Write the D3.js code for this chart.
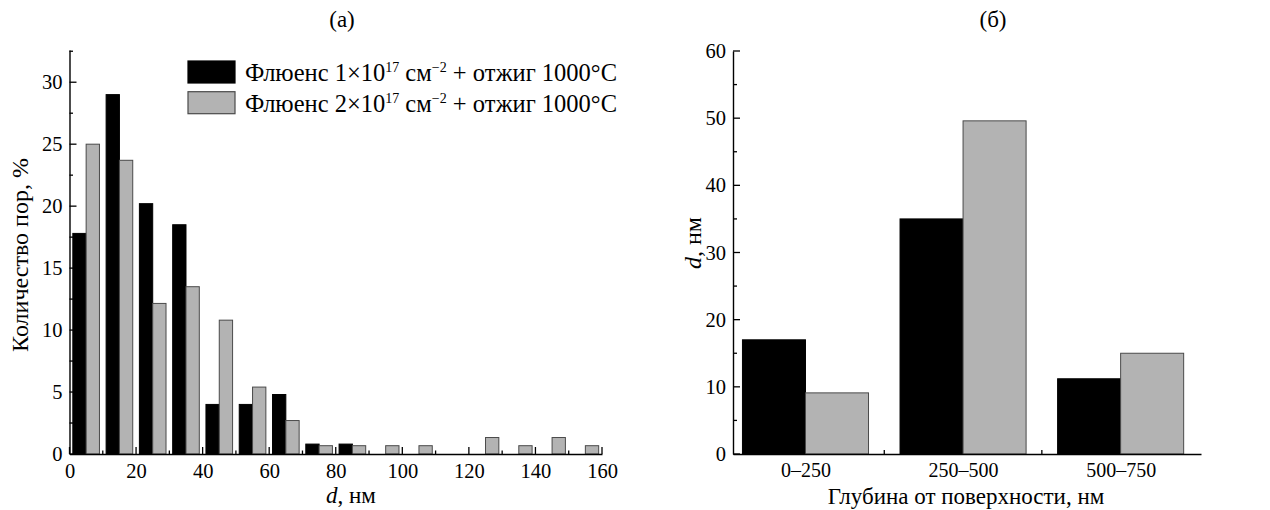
<!DOCTYPE html>
<html>
<head>
<meta charset="utf-8">
<script src="https://cdn.jsdelivr.net/npm/d3@7"></script>
<style>
  body { margin: 0; background: #fff; }
  text { font-family: "Liberation Serif", "Times New Roman", serif; fill: #000; }
</style>
</head>
<body>
<div id="chart"></div>
<script>
let w = 1270,
    h = 510;

// panel (a): pore size histogram, bins of 10 nm
let binStarts = [0, 10, 20, 30, 40, 50, 60, 70, 80, 90, 100, 110, 120, 130, 140, 150];
let fluence1 = [17.8, 29, 20.2, 18.5, 4, 4, 4.8, 0.8, 0.8, 0, 0, 0, 0, 0, 0, 0];
let fluence2 = [25, 23.7, 12.15, 13.5, 10.8, 5.4, 2.7, 0.67, 0.67, 0.67, 0.67, 0, 1.33, 0.67, 1.33, 0.67];
let xTicksA = [0, 20, 40, 60, 80, 100, 120, 140, 160];
let yTicksA = [0, 5, 10, 15, 20, 25, 30];

// panel (б): mean size vs depth
let depthCats = ["0–250", "250–500", "500–750"];
let depth1 = [17, 35, 11.2];
let depth2 = [9.1, 49.6, 15];
let yTicksB = [0, 10, 20, 30, 40, 50, 60];

let seriesKeys = ["f1", "f2"];
let fillColor = { f1: "#000", f2: "#b3b3b3" };
let strokeColor = { f1: "#000", f2: "#4a4a4a" };

let tickFont = "20.5px";

let svg = d3.select("#chart")
            .append("svg")
            .attr("width", w)
            .attr("height", h);

// ---------- panel (a) ----------
let xA = d3.scaleLinear().domain([0, 160]).range([69.5, 602]);
let yA = d3.scaleLinear().domain([0, 32.6]).range([454, 50]);
let sub = d3.scaleBand().domain(seriesKeys).range([0, 10]).paddingInner(0).paddingOuter(0.25);

let gA = svg.append("g");

let histData = [];
binStarts.forEach((b, i) => {
  histData.push({ key: "f1", bin: b, v: fluence1[i] });
  histData.push({ key: "f2", bin: b, v: fluence2[i] });
});

gA.selectAll(".barA")
  .data(histData.filter(d => d.v > 0))
  .enter()
  .append("rect")
  .attr("class", "barA")
  .attr("x", d => xA(d.bin + sub(d.key)))
  .attr("width", d => xA(d.bin + sub(d.key) + sub.bandwidth()) - xA(d.bin + sub(d.key)))
  .attr("y", d => yA(d.v))
  .attr("height", d => yA(0) - yA(d.v))
  .style("fill", d => fillColor[d.key])
  .style("stroke", d => strokeColor[d.key])
  .style("stroke-width", 1);

// x axis
let xAxisA = gA.append("g").attr("transform", "translate(0," + yA(0) + ")");
xAxisA.call(d3.axisBottom(xA).tickValues(xTicksA).tickSize(0).tickPadding(9).tickFormat(d3.format("d")));
xAxisA.select(".domain").style("stroke", "#000").style("stroke-width", 1.4);
xAxisA.selectAll("text").style("font-size", tickFont).style("font-family", "Liberation Serif");
xAxisA.selectAll(".major")
  .data(xTicksA)
  .enter().append("line")
  .attr("x1", d => xA(d)).attr("x2", d => xA(d))
  .attr("y1", 0).attr("y2", -7)
  .style("stroke", "#000").style("stroke-width", 1.3);
xAxisA.selectAll(".minor")
  .data(xTicksA.slice(0, -1).map(d => d + 10))
  .enter().append("line")
  .attr("x1", d => xA(d)).attr("x2", d => xA(d))
  .attr("y1", 0).attr("y2", -3.5)
  .style("stroke", "#000").style("stroke-width", 1.3);

// y axis
let yAxisA = gA.append("g").attr("transform", "translate(" + xA(0) + ",0)");
yAxisA.call(d3.axisLeft(yA).tickValues(yTicksA).tickSize(0).tickPadding(7).tickFormat(d3.format("d")));
yAxisA.select(".domain").style("stroke", "#000").style("stroke-width", 1.4);
yAxisA.selectAll("text").style("font-size", tickFont).style("font-family", "Liberation Serif");
yAxisA.selectAll(".major")
  .data(yTicksA)
  .enter().append("line")
  .attr("y1", d => yA(d)).attr("y2", d => yA(d))
  .attr("x1", 0).attr("x2", 7)
  .style("stroke", "#000").style("stroke-width", 1.3);
yAxisA.selectAll(".minor")
  .data(yTicksA.map(d => d + 2.5))
  .enter().append("line")
  .attr("y1", d => yA(d)).attr("y2", d => yA(d))
  .attr("x1", 0).attr("x2", 3.5)
  .style("stroke", "#000").style("stroke-width", 1.3);

// labels
gA.append("text")
  .attr("x", 342).attr("y", 27)
  .attr("text-anchor", "middle")
  .style("font-size", "23px")
  .text("(а)");

let xLabA = gA.append("text")
  .attr("x", 326).attr("y", 503)
  .style("font-size", "23px");
xLabA.append("tspan").style("font-style", "italic").text("d");
xLabA.append("tspan").text(", нм");

gA.append("text")
  .attr("transform", "translate(28,255) rotate(-90)")
  .attr("text-anchor", "middle")
  .style("font-size", "24px")
  .text("Количество пор, %");

// legend
let legendRows = [
  { key: "f1", n: "1" },
  { key: "f2", n: "2" }
];
let legend = gA.selectAll(".legend")
  .data(legendRows)
  .enter().append("g")
  .attr("class", "legend")
  .attr("transform", (d, i) => "translate(188," + (61 + i * 30.7) + ")");
legend.append("rect")
  .attr("width", 47).attr("height", 22)
  .style("fill", d => fillColor[d.key])
  .style("stroke", d => strokeColor[d.key])
  .style("stroke-width", 1.2);
let legText = legend.append("text")
  .attr("x", 57).attr("y", 20)
  .style("font-size", "24.5px");
legText.append("tspan").text(d => "Флюенс " + d.n + "×10");
legText.append("tspan").attr("dy", -9).style("font-size", "14px").text("17");
legText.append("tspan").attr("dy", 9).text(" см");
legText.append("tspan").attr("dy", -9).style("font-size", "14px").text("−2");
legText.append("tspan").attr("dy", 9).text(" + отжиг 1000°C");

// ---------- panel (б) ----------
let xB = d3.scaleLinear().domain([0.54, 3.51]).range([733, 1201]);
let yB = d3.scaleLinear().domain([0, 60]).range([454, 51]);
let subB = d3.scaleBand().domain(seriesKeys).range([-0.4, 0.4]);

let gB = svg.append("g");

let depthData = [];
depthCats.forEach((c, i) => {
  depthData.push({ key: "f1", pos: i + 1, v: depth1[i] });
  depthData.push({ key: "f2", pos: i + 1, v: depth2[i] });
});

gB.selectAll(".barB")
  .data(depthData)
  .enter()
  .append("rect")
  .attr("class", "barB")
  .attr("x", d => xB(d.pos + subB(d.key)))
  .attr("width", d => xB(d.pos + subB(d.key) + subB.bandwidth()) - xB(d.pos + subB(d.key)))
  .attr("y", d => yB(d.v))
  .attr("height", d => yB(0) - yB(d.v))
  .style("fill", d => fillColor[d.key])
  .style("stroke", d => strokeColor[d.key])
  .style("stroke-width", 1);

let xAxisB = gB.append("g").attr("transform", "translate(0," + yB(0) + ")");
xAxisB.call(d3.axisBottom(xB).tickValues([1, 2, 3]).tickSize(0).tickPadding(9).tickFormat((d, i) => depthCats[i]));
xAxisB.select(".domain").style("stroke", "#000").style("stroke-width", 1.4);
xAxisB.selectAll("text").style("font-size", "20px").style("font-family", "Liberation Serif");
xAxisB.selectAll(".sep")
  .data([1.5, 2.5])
  .enter().append("line")
  .attr("x1", d => xB(d)).attr("x2", d => xB(d))
  .attr("y1", 0).attr("y2", -4)
  .style("stroke", "#000").style("stroke-width", 1.3);

let yAxisB = gB.append("g").attr("transform", "translate(" + xB(0.54) + ",0)");
yAxisB.call(d3.axisLeft(yB).tickValues(yTicksB).tickSize(0).tickPadding(7).tickFormat(d3.format("d")));
yAxisB.select(".domain").style("stroke", "#000").style("stroke-width", 1.4);
yAxisB.selectAll("text").style("font-size", tickFont).style("font-family", "Liberation Serif");
yAxisB.selectAll(".major")
  .data(yTicksB)
  .enter().append("line")
  .attr("y1", d => yB(d)).attr("y2", d => yB(d))
  .attr("x1", 0).attr("x2", 7)
  .style("stroke", "#000").style("stroke-width", 1.3);
yAxisB.selectAll(".minor")
  .data(yTicksB.slice(0, -1).map(d => d + 5))
  .enter().append("line")
  .attr("y1", d => yB(d)).attr("y2", d => yB(d))
  .attr("x1", 0).attr("x2", 4)
  .style("stroke", "#000").style("stroke-width", 1.3);

gB.append("text")
  .attr("x", 993).attr("y", 27)
  .attr("text-anchor", "middle")
  .style("font-size", "23px")
  .text("(б)");

gB.append("text")
  .attr("x", 966).attr("y", 504)
  .attr("text-anchor", "middle")
  .style("font-size", "23px")
  .text("Глубина от поверхности, нм");

let yLabB = gB.append("text")
  .attr("transform", "translate(701,243) rotate(-90)")
  .attr("text-anchor", "middle")
  .style("font-size", "24px");
yLabB.append("tspan").style("font-style", "italic").text("d");
yLabB.append("tspan").text(", нм");
</script>
</body>
</html>
